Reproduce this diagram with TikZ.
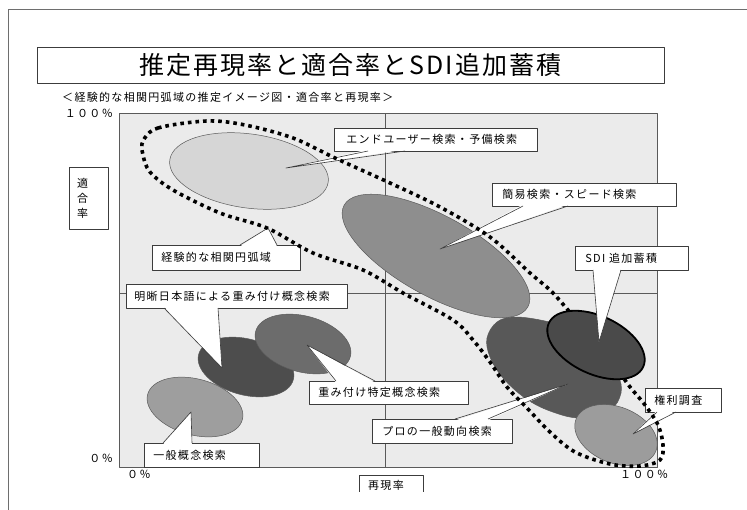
\documentclass[tikz,border=0pt]{standalone}
\usepackage{fontspec}
\newfontfamily\jp{Noto Sans CJK JP}[LetterSpace=12]
\newfontfamily\jpt{Noto Sans CJK JP}[LetterSpace=8]
\usetikzlibrary{calc}
\definecolor{framec}{HTML}{6E6E6E}
\definecolor{boxc}{HTML}{3C3C3C}
\definecolor{plotbg}{HTML}{EBEBEB}
\definecolor{plotc}{HTML}{5A5A5A}
\definecolor{edgec}{HTML}{5A5A5A}
\definecolor{euc}{HTML}{D6D6D6}
\definecolor{simc}{HTML}{8E8E8E}
\definecolor{sdic}{HTML}{4A4A4A}
\definecolor{proc}{HTML}{585858}
\definecolor{kenc}{HTML}{9C9C9C}
\definecolor{meic}{HTML}{4D4D4D}
\definecolor{omoc}{HTML}{6C6C6C}
\definecolor{ippc}{HTML}{9E9E9E}
\newcommand\cbx[7]{\node[cbox, anchor=north west, inner xsep=#6pt, minimum height=#5pt] (#1) at (#2,#3) {\makebox[\dimexpr #4pt - #6pt - #6pt\relax][l]{#7}};}
\newcommand\cwedge[4]{\fill[white] ($(#1)+(0,#4)$) -- (#2) -- ($(#3)+(0,#4)$) -- cycle; \draw[cline] (#1) -- (#2) -- (#3);}
\begin{document}
\begin{tikzpicture}[x=1pt,y=-1pt, line join=round,
  cbox/.style={draw=boxc, fill=white, line width=0.6pt, inner ysep=0pt, font=\jp\fontsize{11}{13}\selectfont},
  cline/.style={draw=boxc, line width=0.6pt},
  blob/.style={draw=edgec, line width=0.5pt},
  loopline/.style={draw=black, line width=3.6pt, dash pattern=on 3.6pt off 4pt},
  lab/.style={font=\jp\fontsize{11}{13}\selectfont, inner sep=0pt}
]
\useasboundingbox (0,0) rectangle (747,509);
\fill[white] (0,0) rectangle (747,509);
\draw[framec, line width=0.8pt] (8,515) -- (8,9) -- (752,9);

% title and subtitle
\node[draw=boxc, line width=0.7pt, minimum width=627pt, minimum height=36pt, inner sep=0pt, font=\jpt\fontsize{25}{28}\selectfont] (title) at (350.5,65) {推定再現率と適合率とSDI追加蓄積};
\node[lab, anchor=west] (sub) at (62,97) {＜経験的な相関円弧域の推定イメージ図・適合率と再現率＞};

% plot area
\path[fill=plotbg, draw=plotc, line width=0.7pt] (119,113) rectangle (657,467);
\draw[plotc, line width=0.7pt] (385,113) -- (385,467);
\draw[plotc, line width=0.7pt] (119,293) -- (657,293);

% axis labels
\node[lab, anchor=east] (y100) at (113,113) {１００％};
\node[lab, anchor=east] (y0) at (113,458) {０％};
\node[lab, anchor=west] (x0) at (127,474) {０％};
\node[lab, anchor=west] (x100) at (620,474) {１００％};
\node[draw=boxc, line width=0.6pt, fill=white, minimum height=62pt, text width=23pt, inner xsep=8pt, inner ysep=0pt, align=left, font=\jp\fontsize{11}{15}\selectfont] (ylab) at (88.5,198) {適\\合\\率};
\begin{scope}
\clip (350,470) rectangle (430,491);
\draw[boxc, line width=0.6pt] (359,495) -- (359,475) -- (423,475) -- (423,495);
\node[lab] (xlab) at (386,485) {再現率};
\end{scope}

% ellipses
\draw[blob, fill=euc, rotate around={-8:(249,171)}] (249,171) ellipse [x radius=80, y radius=37];
\draw[blob, fill=simc, rotate around={-29:(436,256)}] (436,256) ellipse [x radius=105, y radius=40];
\draw[blob, fill=ippc, rotate around={-15:(195,407)}] (195,407) ellipse [x radius=49, y radius=28];
\draw[blob, fill=meic, rotate around={-15:(246,367)}] (246,367) ellipse [x radius=49, y radius=28];
\draw[blob, fill=omoc, rotate around={-15:(303,344)}] (303,344) ellipse [x radius=49, y radius=28];
\draw[blob, fill=proc] plot[smooth cycle, tension=0.6] coordinates {(487,338) (497,322) (515,317) (545,321) (575,330) (605,355) (618,375) (621,393) (610,410) (580,418) (550,411) (525,398) (503,378) (490,357)};
\draw[blob, fill=kenc, rotate around={-22:(616,435)}] (616,435) ellipse [x radius=43, y radius=28];

% callouts
\cbx{eu}{334}{128}{203}{23}{12}{エンドユーザー検索・予備検索}
\coordinate (eu-b1) at (368,151); \coordinate (eu-b2) at (405,151); \coordinate (eu-t) at (286,168);
\cwedge{eu-b1}{eu-t}{eu-b2}{-1.5}

\cbx{kan}{492}{183}{184}{23}{10}{簡易検索・スピード検索}
\coordinate (kan-b1) at (523,206); \coordinate (kan-b2) at (568,206); \coordinate (kan-t) at (440,249);
\cwedge{kan-b1}{kan-t}{kan-b2}{-1.5}

\cbx{kei}{152}{245}{148}{25}{9}{経験的な相関円弧域}
\coordinate (kei-b1) at (240,245); \coordinate (kei-b2) at (277,245); \coordinate (kei-t) at (268,228);
\cwedge{kei-b1}{kei-t}{kei-b2}{1.5}

\cbx{mei}{126}{284}{221}{24}{8}{明晰日本語による重み付け概念検索}
\coordinate (mei-b1) at (164,308); \coordinate (mei-b2) at (218,308); \coordinate (mei-t) at (222,368);
\cwedge{mei-b1}{mei-t}{mei-b2}{-1.5}

\cbx{omo}{309}{381}{159}{23}{9}{重み付け特定概念検索}
\coordinate (omo-b1) at (336,381); \coordinate (omo-b2) at (375,381); \coordinate (omo-t) at (307,345);
\cwedge{omo-b1}{omo-t}{omo-b2}{1.5}

\cbx{ipp}{144}{443}{115}{24}{9}{一般概念検索}
\coordinate (ipp-b1) at (163,443); \coordinate (ipp-b2) at (192,443); \coordinate (ipp-t) at (191,412);
\cwedge{ipp-b1}{ipp-t}{ipp-b2}{1.5}

\cbx{pro}{372}{419}{140}{24}{10}{プロの一般動向検索}
\coordinate (pro-b1) at (455,419); \coordinate (pro-b2) at (488,419); \coordinate (pro-t) at (568,384);
\cwedge{pro-b1}{pro-t}{pro-b2}{1.5}

\cbx{ken}{645}{388}{76}{24}{9}{権利調査}
\coordinate (ken-b1) at (657,412); \coordinate (ken-b2) at (676,412); \coordinate (ken-t) at (633,434);
\cwedge{ken-b1}{ken-t}{ken-b2}{-1.5}

% dotted loop
\draw[loopline] plot[smooth cycle, tension=0.55] coordinates {(143,141) (158,128) (207,121) (245,125) (293,138) (335,158) (390,183) (440,207) (490,237) (530,273) (552,292) (575,318) (605,350) (627,383) (645,405) (658,425) (663,445) (660,460) (640,466) (610,464) (575,452) (550,432) (527,408) (507,387) (490,362) (473,340) (453,320) (403,293) (363,270) (313,253) (267,228) (220,213) (173,190) (150,172) (143,155)};

% SDI
\draw[black, line width=1.8pt, fill=sdic, rotate around={-25:(596,345)}] (596,345) ellipse [x radius=52, y radius=29];
\cbx{sdi}{575}{246}{113}{24}{10}{SDI 追加蓄積}
\coordinate (sdi-b1) at (593,270); \coordinate (sdi-b2) at (621,270); \coordinate (sdi-t) at (599,342);
\cwedge{sdi-b1}{sdi-t}{sdi-b2}{-1.5}
\end{tikzpicture}
\end{document}
